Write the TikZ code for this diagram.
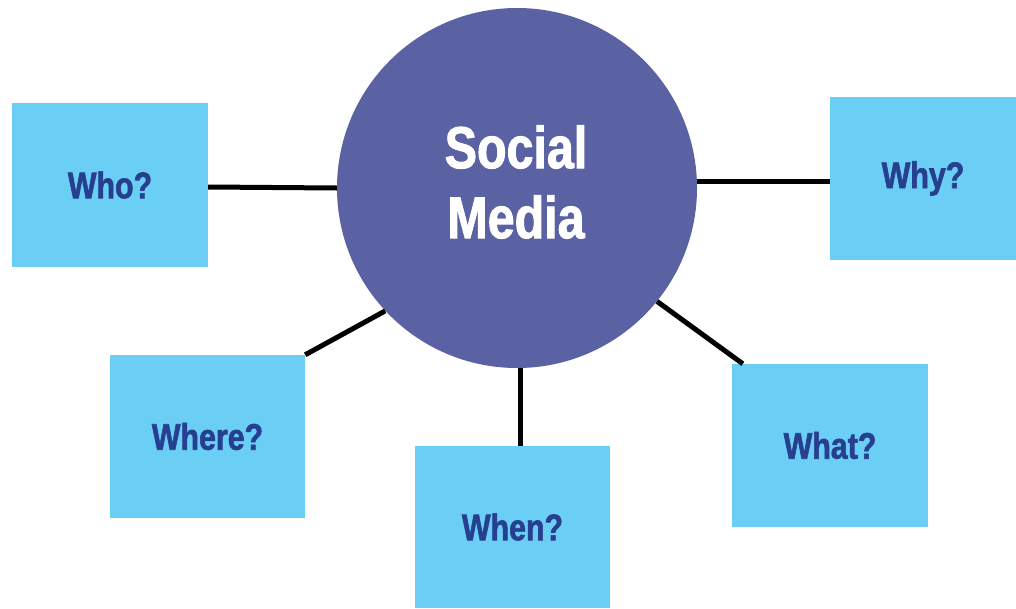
\documentclass[tikz,border=0pt]{standalone}
\usepackage{fontspec}
\newfontfamily\labelfont[FakeStretch=0.82,BoldFeatures={FakeBold=1.6}]{Liberation Sans}
\usetikzlibrary{calc}
\definecolor{hubblue}{HTML}{5A62A4}
\definecolor{boxblue}{HTML}{6BCEF5}
\definecolor{wordblue}{HTML}{263F8F}

\begin{document}
\begin{tikzpicture}[x=1pt,y=-1pt,
    hub/.style={circle,fill=hubblue,minimum size=360pt,inner sep=0pt},
    hubtext/.style={align=center,text=white,font=\labelfont\bfseries\fontsize{59}{70}\selectfont},
    question/.style={rectangle,fill=boxblue,inner sep=0pt,
        text=wordblue,font=\labelfont\bfseries\fontsize{37}{44}\selectfont},
    spoke/.style={line width=5pt,black}]
    \useasboundingbox (0,0) rectangle (1016,608);
    % centre and the five questions
    \node[hub] (sm) at (517,188) {};
    \node[hubtext] (smtext) at (516,182) {Social\\Media};
    \node[question,minimum width=196pt,minimum height=164pt] (who) at (110,185) {Who?};
    \node[question,minimum width=186pt,minimum height=163pt] (why) at (923,178.5) {Why?};
    \node[question,minimum width=195pt,minimum height=163pt] (where) at (207.5,436.5) {Where?};
    \node[question,minimum width=195pt,minimum height=162pt] (when) at (512.5,527) {When?};
    \node[question,minimum width=196pt,minimum height=163pt] (what) at (830,445.5) {What?};
    % spokes
    \draw[spoke] ($(who.east)+(0,2)$) -- (sm.west);
    \draw[spoke] (sm.2) -- (sm.2 -| why.west);
    \draw[spoke] (sm.223) -- (where.north east);
    \draw[spoke] (sm.271) -- (sm.271 |- when.north);
    \draw[spoke] (sm.321.5) -- ($(what.north west)+(11,0)$);
\end{tikzpicture}
\end{document}
